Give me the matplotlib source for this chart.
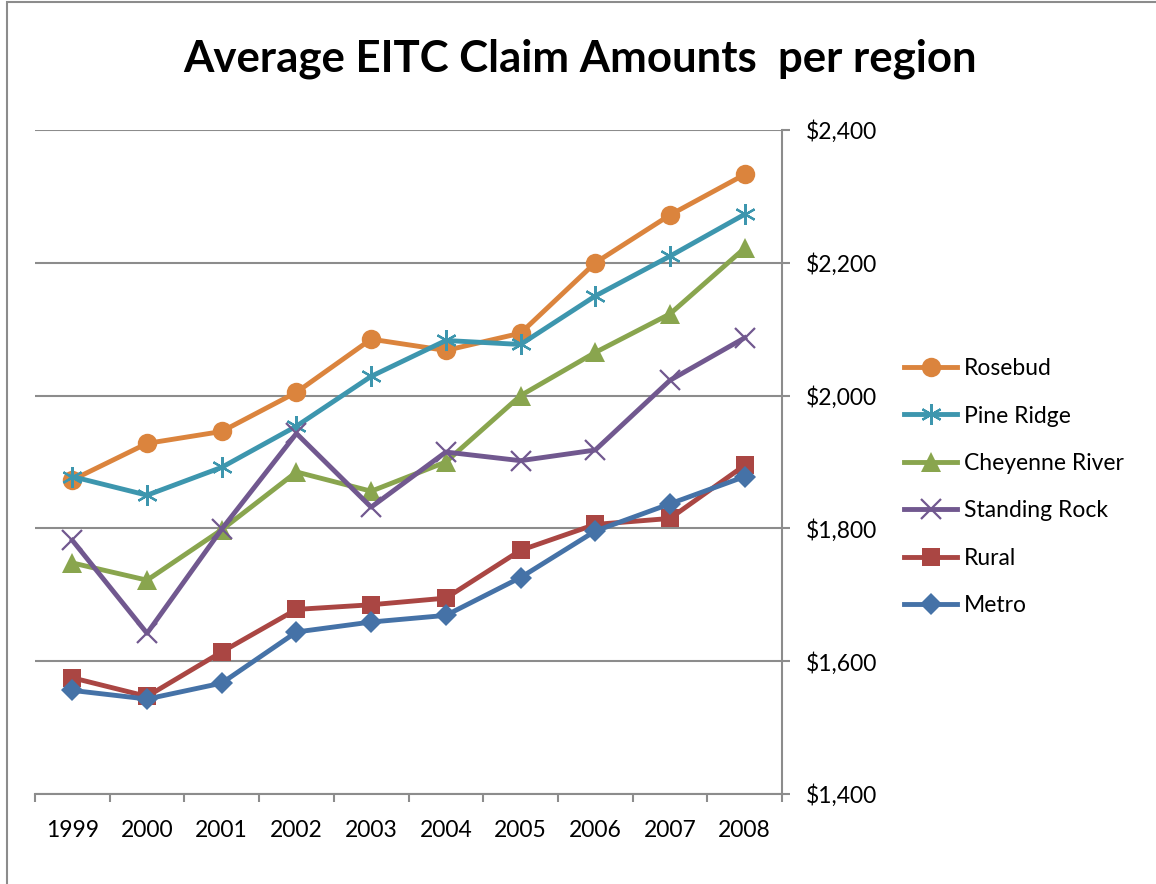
import matplotlib
matplotlib.use("Agg")
import matplotlib.pyplot as plt
from matplotlib.patches import Rectangle
from matplotlib.ticker import FuncFormatter

plt.rcParams['font.family'] = ['Lato', 'DejaVu Sans']

years = ['1999', '2000', '2001', '2002', '2003', '2004', '2005', '2006', '2007', '2008']

rosebud = [1873, 1928, 1946, 2005, 2085, 2068, 2094, 2200, 2272, 2333]
pine_ridge = [1878, 1850, 1892, 1954, 2029, 2083, 2077, 2150, 2210, 2273]
cheyenne_river = [1748, 1722, 1798, 1885, 1856, 1900, 2000, 2065, 2123, 2222]
standing_rock = [1782, 1642, 1799, 1943, 1832, 1915, 1902, 1918, 2023, 2087]
rural = [1575, 1547, 1614, 1678, 1685, 1695, 1767, 1806, 1815, 1895]
metro = [1556, 1543, 1567, 1644, 1659, 1669, 1726, 1796, 1837, 1878]

series = [
    ('Rosebud', rosebud, '#DB843D', 'o', 14),
    ('Pine Ridge', pine_ridge, '#3D96AE', (6, 2, 0), 15),
    ('Cheyenne River', cheyenne_river, '#89A54E', '^', 15),
    ('Standing Rock', standing_rock, '#71588F', 'x', 14),
    ('Rural', rural, '#AA4643', 's', 13),
    ('Metro', metro, '#4572A7', 'D', 11),
]

fig = plt.figure(figsize=(11.56, 8.84), dpi=100)
ax = fig.add_axes([35/1156, 1-794/884, (782-35)/1156, (794-130)/884])

x = list(range(len(years)))
for name, vals, col, mk, ms in series:
    if mk == 'x' or isinstance(mk, tuple):
        ax.plot(x, vals, color=col, lw=3.5, marker=mk, ms=ms, mew=1.6, label=name)
    else:
        ax.plot(x, vals, color=col, lw=3.5, marker=mk, ms=ms, mew=0, label=name)

ax.set_xlim(-0.5, 9.5)
ax.set_ylim(1400, 2400)
ax.set_yticks([1400, 1600, 1800, 2000, 2200, 2400])
ax.yaxis.set_major_formatter(FuncFormatter(lambda v, p: '${:,.0f}'.format(v)))
ax.yaxis.tick_right()
ax.grid(axis='y', color='#8c8c8c', lw=1.5)
ax.set_axisbelow(True)

# category boundaries get the tick marks, labels sit in between
ax.set_xticks([i - 0.5 for i in range(11)])
ax.set_xticklabels([])
ax.set_xticks(x, minor=True)
ax.set_xticklabels(years, minor=True)
ax.tick_params(axis='x', which='major', length=6, width=1.5, color='#8c8c8c', direction='out')
ax.tick_params(axis='x', which='minor', length=0, pad=19, labelsize=16.5)
ax.tick_params(axis='y', length=6, width=1.5, color='#8c8c8c', labelsize=16.5, pad=11)

for s in ['left', 'top']:
    ax.spines[s].set_visible(False)
for s in ['right', 'bottom']:
    ax.spines[s].set_color('#8c8c8c')
    ax.spines[s].set_linewidth(1.5)

fig.text(0.502, 0.934, 'Average EITC Claim Amounts  per region', ha='center', va='center',
         fontsize=31.5, fontweight='bold')

leg = fig.legend(loc='upper left', bbox_to_anchor=(895/1156, 1-349/884), frameon=False,
                 fontsize=16.5, handlelength=2.3, handletextpad=0.3, labelspacing=1.15,
                 borderaxespad=0)

fig.patches.append(Rectangle((7/1156, -0.1), 1.2, 1.1 - 2/884, transform=fig.transFigure,
                             fill=False, ec='#8c8c8c', lw=1.5))

fig.savefig('out.png', dpi=100)
